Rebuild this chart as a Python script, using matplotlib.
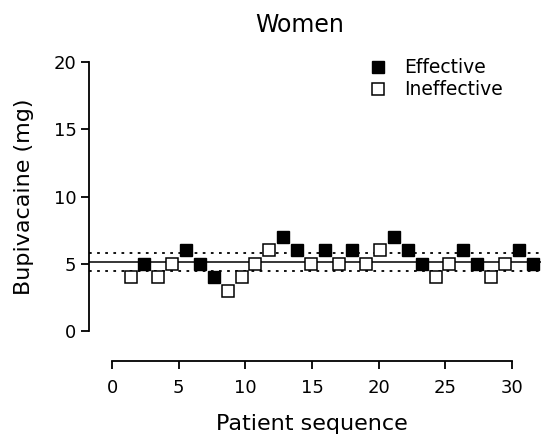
import numpy as np
import matplotlib
matplotlib.use('Agg')
from matplotlib import pyplot as plt

plt.rcParams['font.family'] = ['DejaVu Sans']

# up-and-down sequence, women
patient = np.arange(1, 31)
dose = [4, 5, 4, 5, 6, 5, 4, 3, 4, 5,
        6, 7, 6, 5, 6, 5, 6, 5, 6, 7,
        6, 5, 4, 5, 6, 5, 4, 5, 6, 5]
effective = [0, 1, 0, 0, 1, 1, 1, 0, 0, 0,
             0, 1, 1, 0, 1, 0, 1, 0, 0, 1,
             1, 1, 0, 0, 1, 1, 0, 0, 1, 1]
ed50 = 5.15
ci_low, ci_high = 4.48, 5.78

dose = np.array(dose)
eff = np.array(effective) == 1

W, H = 543, 434
fig = plt.figure(figsize=(W / 100, H / 100), dpi=100)

# main axes: y spine at x=89, y 0..20 from 331 to 62 px
ax = fig.add_axes([89 / W, (H - 331) / H, (541 - 89) / W, (331 - 62) / H])
ax.set_ylim(0, 20)
ax.set_xlim(-2.0, 30.6)
ax.plot(patient[eff], dose[eff], 's', color='black', markersize=9.2,
        label='Effective', zorder=3)
ax.plot(patient[~eff], dose[~eff], 's', markerfacecolor='white',
        markeredgecolor='black', markeredgewidth=1.1, markersize=9.2,
        label='Ineffective', zorder=3)
ax.axhline(ed50, color='black', lw=1.1, zorder=1)
ax.axhline(ci_high, color='black', lw=1.3, ls=(0, (1.5, 3)), zorder=1)
ax.axhline(ci_low, color='black', lw=1.3, ls=(0, (1.5, 3)), zorder=1)

for s in ['top', 'right', 'bottom']:
    ax.spines[s].set_visible(False)
ax.spines['left'].set_linewidth(1.3)
ax.set_xticks([])
ax.set_yticks([0, 5, 10, 15, 20])
ax.tick_params(axis='y', direction='out', length=6, width=1.3, labelsize=13, pad=3)
ax.set_ylabel('Bupivacaine (mg)', fontsize=16, labelpad=14)

ax.legend(loc='upper right', bbox_to_anchor=(0.94, 1.055), frameon=False,
          fontsize=13.5, handletextpad=0.9, labelspacing=0.15,
          handlelength=1.0, borderaxespad=0.2)

# separate bottom axis
axb = fig.add_axes([112 / W, (H - 361) / H, (512 - 112) / W, 0.001])
axb.set_xlim(0, 30)
axb.patch.set_visible(False)
for s in ['top', 'right', 'left']:
    axb.spines[s].set_visible(False)
axb.spines['bottom'].set_linewidth(1.3)
axb.set_yticks([])
axb.set_xticks([0, 5, 10, 15, 20, 25, 30])
axb.tick_params(axis='x', direction='out', length=6, width=1.3, labelsize=13, pad=7)
axb.set_xlabel('Patient sequence', fontsize=16, labelpad=12)

fig.text(300 / W, 1 - 25 / H, 'Women', ha='center', va='center', fontsize=17)

fig.savefig('out.png', dpi=100)
